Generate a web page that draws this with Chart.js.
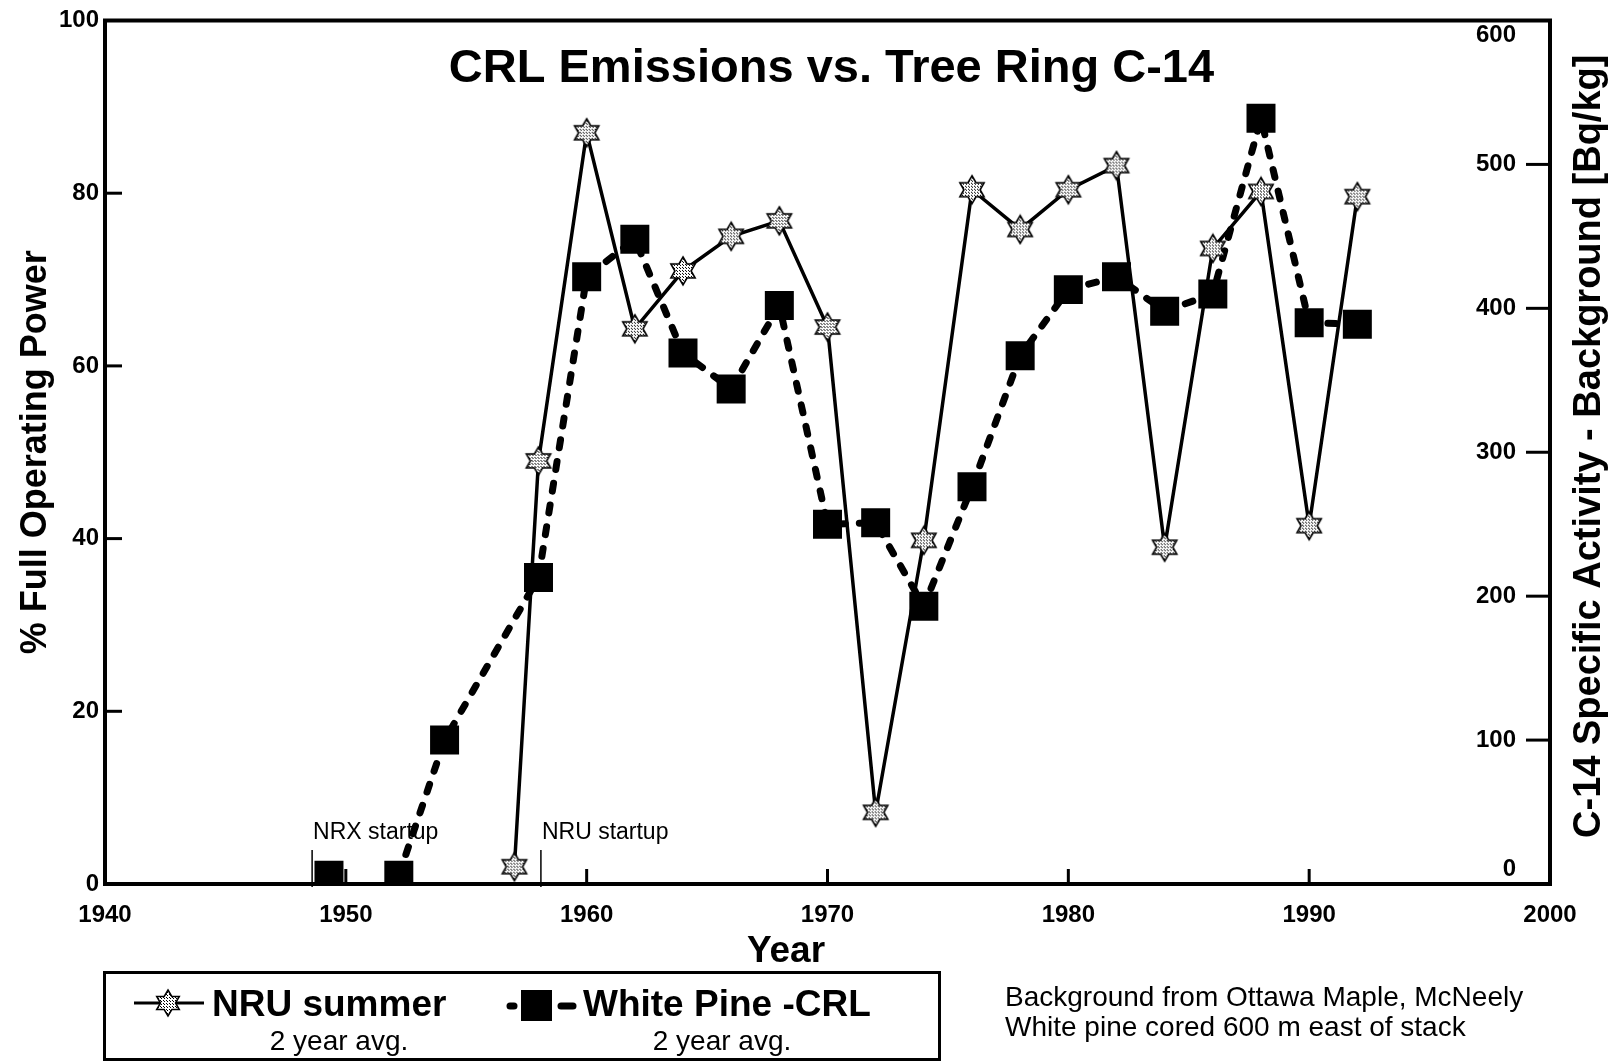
<!DOCTYPE html>
<html>
<head>
<meta charset="utf-8">
<script src="https://cdn.jsdelivr.net/npm/chart.js@4.4.0/dist/chart.umd.min.js"></script>
<style>
  html, body { margin: 0; padding: 0; background: #fff; }
  body { width: 1617px; height: 1063px; position: relative; overflow: hidden;
         font-family: 'Liberation Sans', Arial, sans-serif; color: #000; }
  #wrap { position: absolute; left: 0; top: 0; width: 1617px; height: 1063px; }
  .abs { position: absolute; white-space: nowrap; }
  .legend-box { position: absolute; left: 103px; top: 971px; width: 838px; height: 90px;
                box-sizing: border-box; border: 3px solid #000; }
  .lg-main { font-size: 37px; font-weight: bold; line-height: 37px; }
  .lg-sub { font-size: 28px; line-height: 28px; text-align: center; width: 240px; }
  .note { font-size: 28px; line-height: 28px; }
</style>
</head>
<body>
<div id="wrap"><canvas id="c14Chart"></canvas></div>

<div class="legend-box"></div>
<svg class="abs" style="left:130px;top:985px" width="80" height="36">
  <defs>
    <pattern id="dots" width="3" height="3" patternUnits="userSpaceOnUse">
      <rect width="3" height="3" fill="#fff"/>
      <rect width="1" height="1" fill="#000"/>
      <rect x="1" y="1" width="1" height="1" fill="#000"/>
    </pattern>
  </defs>
  <line x1="4" y1="18" x2="74" y2="18" stroke="#000" stroke-width="3"/>
  <polygon points="38,5 41.8,11.5 49.3,11.5 45.5,18 49.3,24.5 41.8,24.5 38,31 34.2,24.5 26.7,24.5 30.5,18 26.7,11.5 34.2,11.5"
           fill="url(#dots)" stroke="#000" stroke-width="1.5"/>
</svg>
<div class="abs lg-main" style="left:212px;top:985px">NRU summer</div>
<div class="abs lg-sub" style="left:219px;top:1027px">2 year avg.</div>

<svg class="abs" style="left:500px;top:985px" width="84" height="40">
  <line x1="10" y1="21" x2="14" y2="21" stroke="#000" stroke-width="7" stroke-linecap="round"/>
  <rect x="21" y="5" width="31" height="31" fill="#000"/>
  <line x1="61" y1="21" x2="73" y2="21" stroke="#000" stroke-width="7" stroke-linecap="round"/>
</svg>
<div class="abs lg-main" style="left:583px;top:985px">White Pine -CRL</div>
<div class="abs lg-sub" style="left:602px;top:1027px">2 year avg.</div>

<div class="abs note" style="left:1005px;top:983px">Background from Ottawa Maple, McNeely</div>
<div class="abs note" style="left:1005px;top:1013px">White pine cored 600 m east of stack</div>

<script>
// NRU summer, 2 year avg. (% full operating power, left axis)
const nruYears = [1957, 1958, 1960, 1962, 1964, 1966, 1968, 1970, 1972, 1974,
                  1976, 1978, 1980, 1982, 1984, 1986, 1988, 1990, 1992];
const nruPower = [2, 49, 87, 64.3, 71, 75, 76.8, 64.5, 8.3, 39.8,
                  80.4, 75.8, 80.4, 83.2, 39, 73.6, 80.2, 41.5, 79.6];

// White Pine -CRL, 2 year avg. (C-14 Bq/kg above background, right axis)
const pineYears = [1949.3, 1952.2, 1954.1, 1958, 1960, 1962, 1964, 1966, 1968, 1970, 1972,
                   1974, 1976, 1978, 1980, 1982, 1984, 1986, 1988, 1990, 1992];
const pineC14 = [6, 6, 100, 213, 422, 448, 369, 344, 402, 250, 251,
                 193, 276, 367, 413, 422, 398, 410, 532, 390, 389];

// reactor startups marked on the time axis
const startupNames = ['NRX startup', 'NRU startup'];
const startupYears = [1948.6, 1958.1];

const yearTicks = [1940, 1950, 1960, 1970, 1980, 1990, 2000];
const powerTicks = [0, 20, 40, 60, 80, 100];
const c14Ticks = [0, 100, 200, 300, 400, 500, 600];

const FONT = "'Liberation Sans', Arial, sans-serif";

function makeStar(R) {
    const size = Math.ceil(R * 2 + 4);
    const c = document.createElement('canvas');
    c.width = size; c.height = size;
    const g = c.getContext('2d');
    const pat = document.createElement('canvas');
    pat.width = 3; pat.height = 3;
    const p = pat.getContext('2d');
    p.fillStyle = '#fff'; p.fillRect(0, 0, 3, 3);
    p.fillStyle = '#000'; p.fillRect(0, 0, 1, 1); p.fillRect(1, 1, 1, 1);
    const cx = size / 2, cy = size / 2, r = R / Math.sqrt(3);
    g.beginPath();
    for (let k = 0; k < 12; k++) {
        const rad = k % 2 === 0 ? R : r;
        const a = (-90 + k * 30) * Math.PI / 180;
        const px = cx + rad * Math.cos(a), py = cy + rad * Math.sin(a);
        if (k === 0) g.moveTo(px, py); else g.lineTo(px, py);
    }
    g.closePath();
    g.fillStyle = g.createPattern(pat, 'repeat');
    g.fill();
    g.lineWidth = 1.6;
    g.strokeStyle = '#000';
    g.stroke();
    return c;
}

const starImg = makeStar(14);

const plotDecor = {
    id: 'plotDecor',
    beforeDatasetsDraw(chart) {
        const ctx = chart.ctx;
        const xs = chart.scales.x;
        const area = chart.chartArea;
        ctx.save();
        ctx.strokeStyle = '#000';
        ctx.fillStyle = '#000';
        ctx.lineWidth = 1.5;
        ctx.font = '23px ' + FONT;
        ctx.textAlign = 'left';
        ctx.textBaseline = 'middle';
        startupYears.forEach((yr, i) => {
            const px = xs.getPixelForValue(yr);
            ctx.beginPath();
            ctx.moveTo(px, area.bottom - 34);
            ctx.lineTo(px, area.bottom + 3);
            ctx.stroke();
            ctx.fillText(startupNames[i], px + 1, area.bottom - 51);
        });
        ctx.restore();
    },
    afterDraw(chart) {
        const ctx = chart.ctx;
        const area = chart.chartArea;
        const {x, y, y1} = chart.scales;
        ctx.save();
        ctx.strokeStyle = '#000';
        ctx.lineWidth = 3;
        // inward tick marks
        yearTicks.slice(1, -1).forEach(v => {
            const px = x.getPixelForValue(v);
            ctx.beginPath(); ctx.moveTo(px, area.bottom); ctx.lineTo(px, area.bottom - 15); ctx.stroke();
        });
        powerTicks.slice(1, -1).forEach(v => {
            const py = y.getPixelForValue(v);
            ctx.beginPath(); ctx.moveTo(area.left, py); ctx.lineTo(area.left + 17, py); ctx.stroke();
        });
        c14Ticks.slice(1, -1).forEach(v => {
            const py = y1.getPixelForValue(v);
            ctx.beginPath(); ctx.moveTo(area.right, py); ctx.lineTo(area.right - 24, py); ctx.stroke();
        });
        // frame
        ctx.lineWidth = 4;
        ctx.strokeRect(area.left, area.top, area.right - area.left, area.bottom - area.top);

        ctx.fillStyle = '#000';
        ctx.textAlign = 'center';
        ctx.textBaseline = 'middle';

        // title inside the plot
        ctx.font = 'bold 47px ' + FONT;
        ctx.fillText('CRL Emissions vs. Tree Ring C-14', (area.left + area.right) / 2 + 4, 69);

        // x axis title sits a little left of centre
        ctx.font = 'bold 37px ' + FONT;
        ctx.fillText('Year', 786, 952);

        // right axis title, read bottom to top
        ctx.font = 'bold 38px ' + FONT;
        ctx.translate(1590, (area.top + area.bottom) / 2 - 6);
        ctx.rotate(-Math.PI / 2);
        ctx.fillText('C-14 Specific Activity - Background [Bq/kg]', 0, 0);
        ctx.restore();
    }
};

const ctx = document.getElementById('c14Chart').getContext('2d');

new Chart(ctx, {
    type: 'line',
    data: {
        datasets: [{
            label: 'NRU summer',
            data: nruYears.map((yr, i) => ({x: yr, y: nruPower[i]})),
            yAxisID: 'y',
            borderColor: '#000',
            borderWidth: 3.5,
            tension: 0,
            fill: false,
            pointStyle: starImg,
            pointRadius: 14
        }, {
            label: 'White Pine -CRL',
            data: pineYears.map((yr, i) => ({x: yr, y: pineC14[i]})),
            yAxisID: 'y1',
            borderColor: '#000',
            borderWidth: 7,
            borderDash: [8, 14],
            borderCapStyle: 'round',
            tension: 0,
            fill: false,
            // no connecting line between the two pre-1953 samples
            segment: { borderColor: (s) => s.p0DataIndex === 0 ? 'rgba(0,0,0,0)' : undefined },
            pointStyle: 'rect',
            pointRadius: 20.5,
            pointBackgroundColor: '#000',
            pointBorderWidth: 0
        }]
    },
    options: {
        responsive: true,
        maintainAspectRatio: false,
        animation: false,
        devicePixelRatio: 1,
        layout: { padding: { top: 20, bottom: 89, left: 0, right: 0 } },
        plugins: {
            legend: { display: false },
            tooltip: { enabled: false },
            title: { display: false }
        },
        scales: {
            x: {
                type: 'linear',
                position: 'bottom',
                min: 1940,
                max: 2000,
                afterBuildTicks: (scale) => { scale.ticks = yearTicks.map(v => ({value: v})); },
                ticks: {
                    color: '#000',
                    padding: 17,
                    maxRotation: 0,
                    font: { family: FONT, size: 24, weight: 'bold' },
                    callback: (v) => String(v)
                },
                grid: { display: false, drawTicks: false },
                border: { display: false },
                title: { display: false },
                afterFit: (scale) => { scale.height = 90; }
            },
            y: {
                type: 'linear',
                position: 'left',
                min: 0,
                max: 100,
                afterBuildTicks: (scale) => { scale.ticks = powerTicks.map(v => ({value: v})); },
                ticks: {
                    color: '#000',
                    padding: 6,
                    font: { family: FONT, size: 24, weight: 'bold' }
                },
                grid: { display: false, drawTicks: false },
                border: { display: false },
                title: {
                    display: true,
                    text: '% Full Operating Power',
                    color: '#000',
                    font: { family: FONT, size: 36, weight: 'bold' },
                    padding: { top: 14, bottom: 0 }
                },
                afterFit: (scale) => { scale.width = 105; }
            },
            y1: {
                type: 'linear',
                position: 'right',
                min: 0,
                max: 600,
                afterBuildTicks: (scale) => { scale.ticks = c14Ticks.map(v => ({value: v})); },
                ticks: {
                    color: '#000',
                    mirror: true,
                    padding: -34,
                    font: { family: FONT, size: 24, weight: 'bold' },
                    // end labels are nudged off the frame corners
                    callback: (v) => v === 600 ? ['', '600'] : v === 0 ? ['0', ''] : String(v)
                },
                grid: { display: false, drawTicks: false },
                border: { display: false },
                title: { display: false },
                afterFit: (scale) => { scale.width = 67; }
            }
        }
    },
    plugins: [plotDecor]
});
</script>
</body>
</html>
